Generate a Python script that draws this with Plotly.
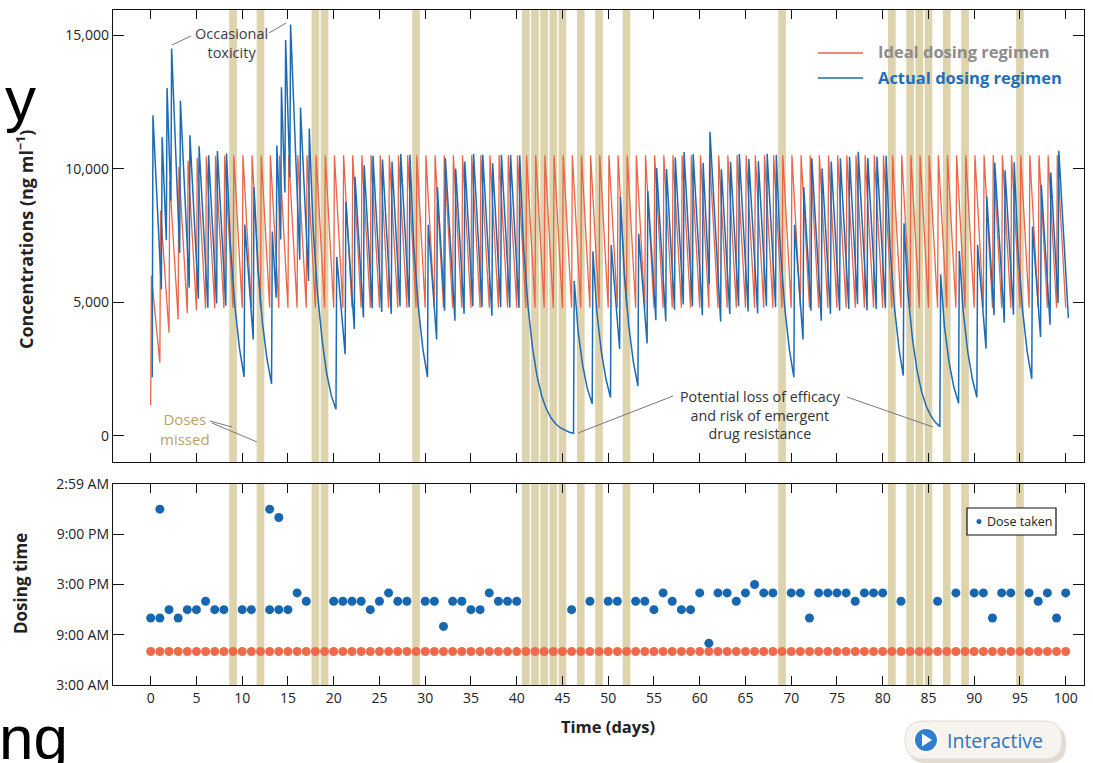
import plotly.graph_objects as go

W, H = 1093, 763

# ---------------- data ----------------
DAYS = list(range(0, 101))          # prescribed dose days (x axis, days)
IDEAL_HOUR = 7                      # prescribed dosing time, 7:00 AM

# days on which the actual dose was missed
MISSED_DAYS = [9, 12, 18, 19, 29, 41, 42, 43, 44, 45, 47, 49, 52,
               69, 81, 83, 84, 85, 87, 89, 95]

# ideal regimen: concentration just before (trough) and just after (peak) each daily dose
IDEAL_TROUGH = [1160, 2740, 3860, 4370, 4600, 4710, 4760, 4780, 4790] + [4800] * 92
IDEAL_PEAK = [6000, 8440, 9560, 10070, 10300, 10410, 10460, 10480, 10490] + [10500] * 91

# actual doses taken: day and clock hour (24 = midnight)
ACTUAL_DAY = [0, 1, 1, 2, 3, 4, 5, 6, 7, 8,
              10, 11, 13, 13, 14, 14, 15, 16, 17, 20,
              21, 22, 23, 24, 25, 26, 27, 28, 30, 31,
              32, 33, 34, 35, 36, 37, 38, 39, 40, 46,
              48, 50, 51, 53, 54, 55, 56, 57, 58, 59,
              60, 61, 62, 63, 64, 65, 66, 67, 68, 70,
              71, 72, 73, 74, 75, 76, 77, 78, 79, 80,
              82, 86, 88, 90, 91, 92, 93, 94, 96, 97,
              98, 99, 100]
ACTUAL_HOUR = [11, 11, 24, 12, 11, 12, 12, 13, 12, 12,
               12, 12, 12, 24, 12, 23, 12, 14, 13, 13,
               13, 13, 13, 12, 13, 14, 13, 13, 13, 13,
               10, 13, 13, 12, 12, 14, 13, 13, 13, 12,
               13, 13, 13, 13, 13, 12, 14, 13, 12, 12,
               14, 8, 14, 14, 13, 14, 15, 14, 14, 14,
               14, 11, 14, 14, 14, 14, 13, 14, 14, 14,
               13, 13, 14, 14, 14, 11, 14, 14, 14, 13,
               14, 11, 14]
# actual regimen: concentration just before / just after each dose taken (ng/ml)
ACTUAL_PRE = [2200, 5480, 7320, 8800, 6850, 5550, 5140, 4800, 4960, 4870,
              2210, 3610, 1950, 5170, 7350, 9110, 9690, 6590, 5800, 1000,
              3060, 4000, 4430, 4780, 4640, 4570, 4850, 4820, 2200, 3610,
              4690, 4310, 4570, 4850, 4820, 4500, 4820, 4810, 4800, 100,
              1210, 1440, 3260, 1870, 3460, 4330, 4290, 4720, 4920, 4850,
              4520, 5680, 4280, 4560, 4850, 4660, 4580, 4860, 4820, 2200,
              3610, 4690, 4310, 4570, 4690, 4750, 4930, 4700, 4750, 4780,
              2260, 350, 1220, 1450, 3270, 4520, 4240, 4540, 2140, 3700,
              4160, 4970, 4420]
ACTUAL_POST = [12000, 11180, 13020, 14500, 12550, 11250, 10840, 10500, 10660, 10570,
               7910, 9310, 7650, 10870, 13050, 14810, 15390, 12290, 11500, 6700,
               8760, 9700, 10130, 10480, 10340, 10270, 10550, 10520, 7900, 9310,
               10390, 10010, 10270, 10550, 10520, 10200, 10520, 10510, 10500, 5800,
               6910, 7140, 8960, 7570, 9160, 10030, 9990, 10420, 10620, 10550,
               10220, 11380, 9980, 10260, 10550, 10360, 10280, 10560, 10520, 7900,
               9310, 10390, 10010, 10270, 10390, 10450, 10630, 10400, 10450, 10480,
               7960, 6050, 6920, 7150, 8970, 10220, 9940, 10240, 7840, 9400,
               9860, 10670]
# readings along the longer wash-out stretches between doses (time in days, ng/ml)
DECAY_T = [8.708, 9.208, 9.708,
           11.708, 12.208, 12.708,
           17.75, 18.25, 18.75, 19.25, 19.75,
           28.75, 29.25, 29.75,
           40.75, 41.25, 41.75, 42.25, 42.75, 43.25, 43.75, 44.25, 44.75, 45.25, 45.75,
           46.708, 47.208, 47.708,
           48.75, 49.25, 49.75,
           51.75, 52.25, 52.75,
           68.792, 69.292, 69.792,
           80.792, 81.292, 81.792,
           82.75, 83.25, 83.75, 84.25, 84.75, 85.25, 85.75,
           86.75, 87.25, 87.75,
           88.792, 89.292, 89.792,
           94.792, 95.292, 95.792]
DECAY_C = [7150, 4830, 3270,
           6290, 4250, 2880,
           7770, 5260, 3550, 2300, 1500,
           7110, 4810, 3250,
           7100, 4800, 3240, 2190, 1480, 1000, 680, 460, 310, 210, 140,
           3920, 2650, 1790,
           4670, 3160, 2140,
           6060, 4100, 2770,
           7110, 4810, 3250,
           7080, 4790, 3240,
           5380, 3640, 2460, 1660, 1120, 760, 510,
           4090, 2760, 1870,
           4680, 3160, 2140,
           6920, 4680, 3160]

CONC_TICKS = [0, 5000, 10000, 15000]
TIME_TICKS = [3, 9, 15, 21, 26.98]
TIME_LABELS = ["3:00 AM", "9:00 AM", "3:00 PM", "9:00 PM", "2:59 AM"]
DAY_TICKS = list(range(0, 101, 5))

# ---------------- style ----------------
RED = "#ea6446"
RED_DOT = "#ef6a4b"
BLUE = "#1d6cb3"
BLUE_DOT = "#1767b0"
BAND = "#ddd3ad"
FONT = "Open Sans"
RISE = 0.08  # days from dose to peak


def px(x):
    return x / W


def py(y):
    return 1 - y / H


def dose_time(day, hour):
    return day + (hour - IDEAL_HOUR) / 24.0


# ideal curve vertices
ideal_t, ideal_c = [], []
for d, tr, pk in zip(DAYS, IDEAL_TROUGH, IDEAL_PEAK):
    ideal_t += [d, d + RISE]
    ideal_c += [tr, pk]
ideal_t.append(DAYS[-1])
ideal_c.append(IDEAL_TROUGH[-1])

# actual curve vertices
pts = []
for i, (d, h) in enumerate(zip(ACTUAL_DAY, ACTUAL_HOUR)):
    t = dose_time(d, h)
    pts.append((t, ACTUAL_PRE[i]))
    if i < len(ACTUAL_POST):
        pts.append((t + RISE, ACTUAL_POST[i]))
pts += list(zip(DECAY_T, DECAY_C))
pts.sort()
actual_t = [p[0] for p in pts]
actual_c = [p[1] for p in pts]

fig = go.Figure()
fig.add_trace(go.Scatter(x=ideal_t, y=ideal_c, mode="lines", line=dict(color=RED, width=1.3),
                         name="Ideal dosing regimen", showlegend=False, xaxis="x", yaxis="y",
                         hoverinfo="skip"))
fig.add_trace(go.Scatter(x=actual_t, y=actual_c, mode="lines", line=dict(color=BLUE, width=1.5),
                         name="Actual dosing regimen", showlegend=False, xaxis="x", yaxis="y",
                         hoverinfo="skip"))
fig.add_trace(go.Scatter(x=DAYS, y=[IDEAL_HOUR] * len(DAYS), mode="markers",
                         marker=dict(color=RED_DOT, size=9), showlegend=False,
                         xaxis="x2", yaxis="y2", name="Prescribed dose"))
fig.add_trace(go.Scatter(x=ACTUAL_DAY, y=ACTUAL_HOUR, mode="markers",
                         marker=dict(color=BLUE_DOT, size=9), showlegend=False,
                         xaxis="x2", yaxis="y2", name="Dose taken"))

X0, X1 = 113, 1084
XRANGE = [-4.12, 102.0]
axis_common = dict(showline=True, linecolor="#111", linewidth=1.4, mirror="ticks",
                   ticks="inside", tickcolor="#111", tickwidth=1.3, showgrid=False,
                   zeroline=False, automargin=False,
                   tickfont=dict(family=FONT, size=14, color="#222"))

fig.update_layout(
    width=W, height=H, margin=dict(l=0, r=0, t=0, b=0),
    paper_bgcolor="white", plot_bgcolor="white", showlegend=False,
    xaxis=dict(domain=[px(X0), px(X1)], range=XRANGE, anchor="y", tickvals=DAY_TICKS,
               showticklabels=False, ticklen=9, **axis_common),
    yaxis=dict(domain=[py(462), py(10)], range=[-973, 15937], anchor="x",
               tickvals=CONC_TICKS, tickformat=",", ticklen=11, **axis_common),
    xaxis2=dict(domain=[px(X0), px(X1)], range=XRANGE, anchor="y2", tickvals=DAY_TICKS,
                ticklen=9, **axis_common),
    yaxis2=dict(domain=[py(685), py(484)], range=[3, 27], anchor="x2",
                tickvals=TIME_TICKS, ticktext=TIME_LABELS, ticklen=11, **axis_common),
)

shapes = []
# missed-dose bands in both panels
for m in MISSED_DAYS:
    for xr, yr in (("x", "y domain"), ("x2", "y2 domain")):
        shapes.append(dict(type="rect", xref=xr, yref=yr, x0=m - 0.42, x1=m + 0.42, y0=0, y1=1,
                           fillcolor=BAND, line=dict(width=0), layer="below"))


def pline(x0, y0, x1, y1, color="#777", width=1.0):
    return dict(type="line", xref="paper", yref="paper", x0=px(x0), y0=py(y0),
                x1=px(x1), y1=py(y1), line=dict(color=color, width=width))


# key of the concentration panel
shapes.append(pline(818, 53, 863, 53, RED, 1.5))
shapes.append(pline(818, 78, 863, 78, BLUE, 1.5))
# leader lines
shapes.append(pline(191, 36, 172, 45))
shapes.append(pline(269, 33, 286, 23))
shapes.append(pline(210, 421, 232, 427))
shapes.append(pline(212, 423, 257, 442))
shapes.append(pline(673, 396, 578, 433))
shapes.append(pline(847, 397, 933, 427))
# "Dose taken" key box
shapes.append(dict(type="rect", xref="paper", yref="paper", x0=px(967), x1=px(1056),
                   y0=py(535), y1=py(508), line=dict(color="#111", width=1.2), fillcolor="white"))
shapes.append(dict(type="circle", xref="paper", yref="paper", x0=px(976.5), x1=px(981.5),
                   y0=py(524), y1=py(519), line=dict(width=0), fillcolor=BLUE_DOT))


def pill(x0, y0, x1, y1, r):
    def P(x, y):
        return f"{px(x):.5f},{py(y):.5f}"
    return (f"M {P(x0 + r, y0)} L {P(x1 - r, y0)} Q {P(x1, y0)} {P(x1, y0 + r)} "
            f"L {P(x1, y1 - r)} Q {P(x1, y1)} {P(x1 - r, y1)} L {P(x0 + r, y1)} "
            f"Q {P(x0, y1)} {P(x0, y1 - r)} L {P(x0, y0 + r)} Q {P(x0, y0)} {P(x0 + r, y0)} Z")


# "Interactive" button
shapes.append(dict(type="path", xref="paper", yref="paper", path=pill(908, 725, 1066, 763, 18),
                   fillcolor="#e3dad2", line=dict(width=0)))
shapes.append(dict(type="path", xref="paper", yref="paper", path=pill(905, 721, 1062, 759, 18),
                   fillcolor="#f7f4f0", line=dict(color="#e2dbd3", width=1)))
shapes.append(dict(type="circle", xref="paper", yref="paper", x0=px(914), x1=px(938),
                   y0=py(752), y1=py(728), fillcolor="#2f7fd0", line=dict(color="white", width=2)))
shapes.append(dict(type="path", xref="paper", yref="paper",
                   path=f"M {px(922)},{py(733.5)} L {px(922)},{py(746.5)} L {px(932)},{py(740)} Z",
                   fillcolor="white", line=dict(width=0)))

ann = []


def text(x, y, s, size=13, color="#222", xanchor="center", yanchor="middle", angle=0,
         family=FONT, align="center"):
    ann.append(dict(x=px(x), y=py(y), xref="paper", yref="paper", text=s, showarrow=False,
                    xanchor=xanchor, yanchor=yanchor, textangle=angle, align=align,
                    font=dict(family=family, size=size, color=color)))


text(25, 240, "<b>Concentrations (ng ml<sup>−1</sup>)</b>", 18, "#222", angle=-90)
text(20, 584, "<b>Dosing time</b>", 17, "#222", angle=-90)
text(608, 726, "<b>Time (days)</b>", 16.5, "#222")
text(876, 51, "<b>Ideal dosing regimen</b>", 16.5, "#8c8c8c", xanchor="left")
text(876, 77, "<b>Actual dosing regimen</b>", 16.5, "#1f6fb8", xanchor="left")
text(231, 43, "Occasional<br>toxicity", 14.5, "#3a3d45")
text(185, 429, "Doses<br>missed", 15, "#b8a466")
text(760, 415, "Potential loss of efficacy<br>and risk of emergent<br>drug resistance", 14.3, "#333")
text(985, 521, "Dose taken", 12.5, "#222", xanchor="left")
text(945, 740, "Interactive", 19.5, "#2a76c4", xanchor="left")
text(3, 98, "y", 62, "black", xanchor="left", family="Liberation Sans")
text(-3, 737, "ng", 62, "black", xanchor="left", family="Liberation Sans")

fig.update_layout(shapes=shapes, annotations=ann)
fig.write_html("out.html")
